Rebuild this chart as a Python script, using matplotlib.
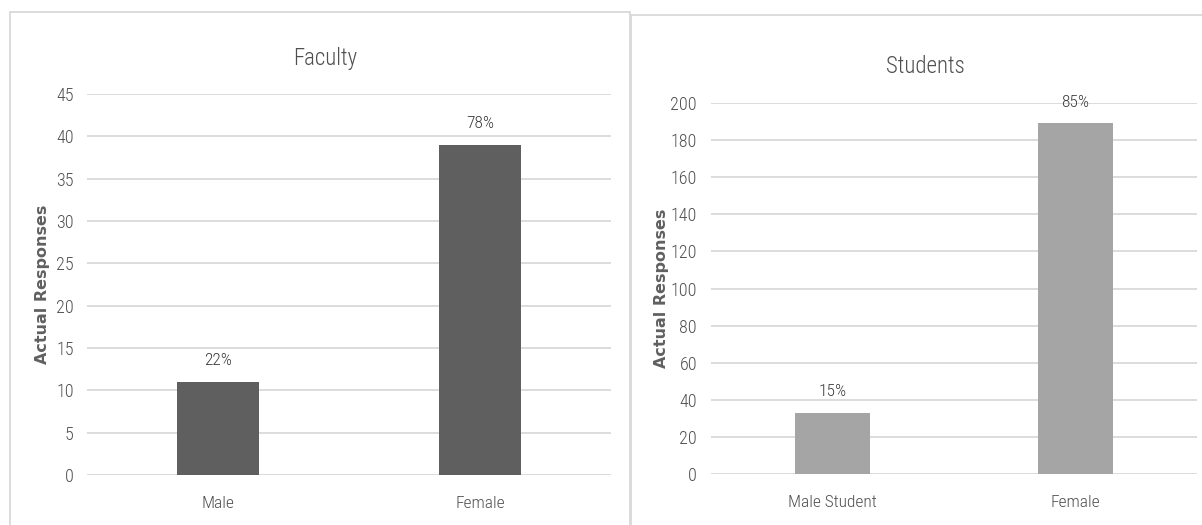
import matplotlib
matplotlib.use("Agg")
import matplotlib.pyplot as plt
from matplotlib.patches import Rectangle

# Survey response counts by gender
faculty_categories = ["Male", "Female"]
faculty_counts = [11, 39]
faculty_pct = ["22%", "78%"]
faculty_ticks = [0, 5, 10, 15, 20, 25, 30, 35, 40, 45]

student_categories = ["Male Student", "Female"]
student_counts = [33, 189]
student_pct = ["15%", "85%"]
student_ticks = [0, 20, 40, 60, 80, 100, 120, 140, 160, 180, 200]

NARROW = ["Roboto Condensed", "Open Sans Condensed", "Liberation Sans Narrow",
          "Roboto", "DejaVu Sans"]
TEXT = "#4f4f4f"
GRID = "#d9d9d9"

W, H = 1202, 525
fig = plt.figure(figsize=(W / 100, H / 100), dpi=100)
fig.patch.set_facecolor("white")


def px_box(x0, y0, x1, y1):
    return [x0 / W, 1 - y1 / H, (x1 - x0) / W, (y1 - y0) / H]


# chart frames
fig.patches.append(Rectangle((10 / W, -0.1), (630 - 10) / W, 1.1 - 12 / H,
                             transform=fig.transFigure, fill=False,
                             edgecolor=GRID, lw=1.3))
fig.patches.append(Rectangle((631 / W, -0.1), 1.0, 1.1 - 15 / H,
                             transform=fig.transFigure, fill=False,
                             edgecolor=GRID, lw=1.3))


def draw(box, cats, vals, pcts, ticks, color, title, title_xy, label_x, pad):
    ax = fig.add_axes(box)
    x = list(range(len(cats)))
    bars = ax.bar(x, vals, width=0.31, color=color, zorder=3)
    ax.set_xlim(-0.5, len(cats) - 0.5)
    ax.set_ylim(ticks[0], ticks[-1])
    ax.set_yticks(ticks)
    ax.set_xticks(x)
    ax.set_xticklabels(cats, family=NARROW, fontsize=12.5, color=TEXT,
                       fontweight="light")
    ax.set_yticklabels([str(t) for t in ticks], family=NARROW,
                       fontsize=13, color=TEXT, fontweight="light")
    ax.tick_params(axis="y", length=0, pad=pad)
    ax.tick_params(axis="x", length=0, pad=15)
    ax.grid(axis="y", color=GRID, lw=1.3, zorder=0)
    ax.set_axisbelow(True)
    for s in ax.spines.values():
        s.set_visible(False)
    ax.set_facecolor("none")
    for b, p in zip(bars, pcts):
        ax.annotate(p, (b.get_x() + b.get_width() / 2, b.get_height()),
                    xytext=(0, 10), textcoords="offset points",
                    ha="center", va="bottom", family=NARROW,
                    fontsize=12.5, color="#3a3a3a", fontweight="light")
    ax.set_ylabel("Actual Responses", family="DejaVu Sans",
                  fontweight="bold", fontsize=11.5, color="#606060")
    ax.yaxis.set_label_coords(label_x, 0.5)
    fig.text(title_xy[0] / W, 1 - title_xy[1] / H, title, family=NARROW,
             fontsize=16.5, color=TEXT, ha="center", va="baseline",
             fontweight="light")
    return ax


draw(px_box(87, 94, 611, 475), faculty_categories, faculty_counts,
     faculty_pct, faculty_ticks, "#5f5f5f", "Faculty", (325, 65),
     -0.071, 9.5)
draw(px_box(711, 103, 1197, 474), student_categories, student_counts,
     student_pct, student_ticks, "#a5a5a5", "Students", (925, 73),
     -0.086, 10)

fig.savefig("out.png", dpi=100, facecolor="white")
